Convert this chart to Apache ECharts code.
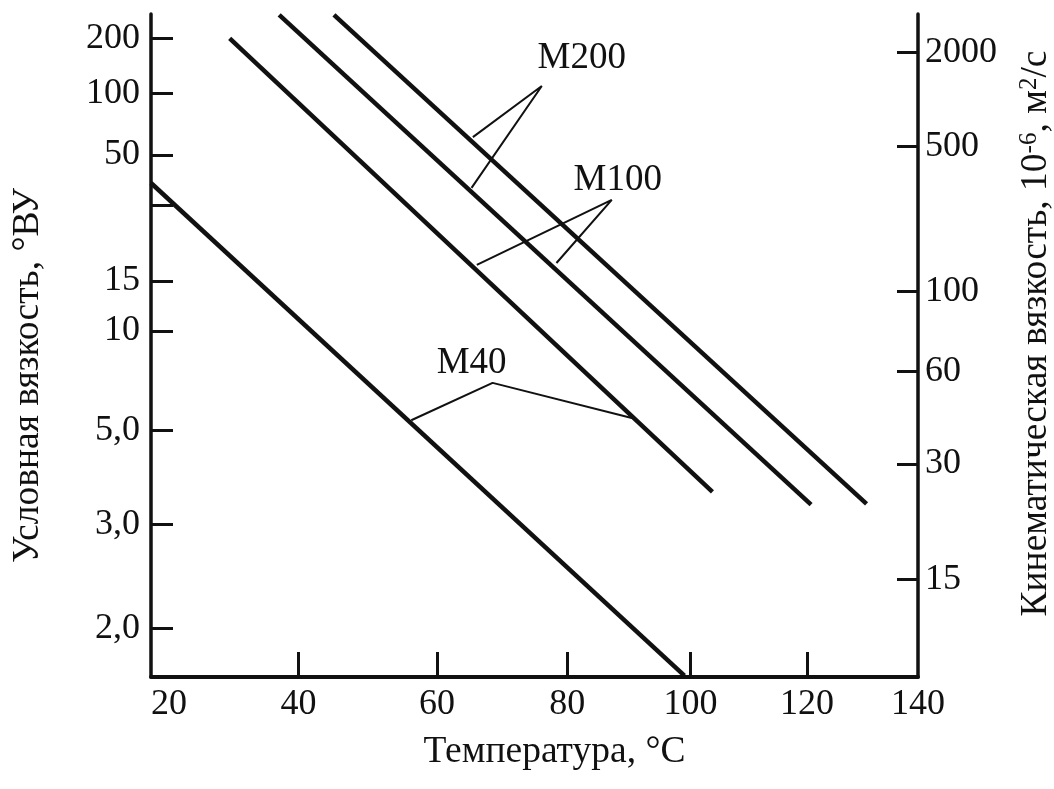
<!DOCTYPE html>
<html>
<head>
<meta charset="utf-8">
<script src="https://cdn.jsdelivr.net/npm/echarts@6/dist/echarts.min.js"></script>
<style>
  html, body { margin: 0; background: #fff; }
  #chart { width: 1054px; height: 789px; }
</style>
</head>
<body>
<div id="chart"></div>
<script>
// temperature ticks, °C
const tempTicks = [20, 40, 60, 80, 100, 120, 140];
const tempInnerTicks = [40, 60, 80, 100, 120];

// left scale, conventional viscosity °ВУ
const vuTicks = [200, 100, 50, 30, 15, 10, 5, 3, 2];
const vuLabels = ['200', '100', '50', '', '15', '10', '5,0', '3,0', '2,0'];
const vuRange = [1.744, 278];

// right scale, kinematic viscosity; where each tick sits against the °ВУ scale
const nuLabels = ['2000', '500', '100', '60', '30', '15'];
const nuTicksOnVU = [167, 55, 13.7, 7.4, 4.1, 2.37];

// oil lines: [temperature °C, viscosity °ВУ]
const lineA = [[20, 37.3], [99, 1.75]];
const lineB = [[30.5, 200], [103.7, 3.52]];
const lineC = [[37.3, 274.6], [120.7, 3.3]];
const lineD = [[45, 274.6], [130.6, 3.31]];

// grade callouts
const gradeNames = ['М40', 'М100', 'М200'];
const leaderM40 = [[56.2, 5.33], [68.4, 6.83], [90.5, 5.4]];
const leaderM100 = [[66, 17.2], [87.1, 31.5], [78.3, 17.5]];
const leaderM200 = [[65.4, 60.7], [76, 109.6], [65.2, 35.5]];

// chart scales: log of absolute temperature, log-log of kinematic viscosity
const tx = (t) => Math.log10(t + 273);
const ty = (vu) => {
  const nu = 7.31 * vu - 6.31 / vu;
  return Math.log10(Math.log10(nu + 0.8));
};
const toXY = (pts) => pts.map((p) => [tx(p[0]), ty(p[1])]);

const nearest = (arr, v) => {
  let best = 0;
  arr.forEach((a, i) => { if (Math.abs(a - v) < Math.abs(arr[best] - v)) best = i; });
  return best;
};

const font = '"Liberation Serif", "DejaVu Serif", serif';
const ink = '#111';

const vuTickU = vuTicks.map(ty);
const vuLabelU = vuTickU.filter((u, i) => vuLabels[i] !== '');
const nuTickU = nuTicksOnVU.map(ty);

const chart = echarts.init(document.getElementById('chart'));

const lineSeries = (pts, width) => ({
  type: 'line',
  data: toXY(pts),
  showSymbol: false,
  silent: true,
  lineStyle: { color: ink, width: width },
  animation: false,
});

const leaders = [leaderM40, leaderM100, leaderM200];
const labelOffsets = [[-21, 4], [6, 4], [40, -4]];

const option = {
  backgroundColor: '#fff',
  animation: false,
  grid: { left: 151, right: 136, top: 14, bottom: 112, outerBoundsMode: 'none' },
  xAxis: {
    type: 'value',
    min: tx(tempTicks[0]),
    max: tx(tempTicks[tempTicks.length - 1]),
    name: 'Температура, °C',
    nameLocation: 'middle',
    nameGap: 56,
    nameTextStyle: { fontFamily: font, fontSize: 37.5, color: ink, padding: [0, 0, 0, 40] },
    axisLine: { show: true, onZero: false, lineStyle: { color: ink, width: 4 } },
    axisTick: {
      show: true, inside: true, length: 25,
      customValues: tempInnerTicks.map(tx),
      lineStyle: { color: ink, width: 3 },
    },
    axisLabel: {
      customValues: tempTicks.map(tx),
      formatter: (v) => String(tempTicks[nearest(tempTicks.map(tx), v)]),
      fontFamily: font, fontSize: 36, color: ink, margin: 10,
      showMinLabel: true, showMaxLabel: true,
      alignMinLabel: 'left',
    },
    splitLine: { show: false },
  },
  yAxis: [
    {
      type: 'value',
      position: 'left',
      min: ty(vuRange[0]),
      max: ty(vuRange[1]),
      name: 'Условная вязкость, °ВУ',
      nameLocation: 'middle',
      nameGap: 104,
      nameRotate: 90,
      nameTextStyle: { fontFamily: font, fontSize: 37.5, color: ink, padding: [0, 60, 0, 0] },
      axisLine: { show: true, lineStyle: { color: ink, width: 3.5 } },
      axisTick: {
        show: true, inside: true, length: 22,
        customValues: vuTickU,
        lineStyle: { color: ink, width: 3 },
      },
      axisLabel: {
        customValues: vuLabelU,
        formatter: (v) => vuLabels[nearest(vuTickU, v)],
        fontFamily: font, fontSize: 36, color: ink, margin: 11,
        showMinLabel: true, showMaxLabel: true,
      },
      splitLine: { show: false },
    },
    {
      type: 'value',
      position: 'right',
      min: ty(vuRange[0]),
      max: ty(vuRange[1]),
      name: 'Кинематическая вязкость, 10{sup|-6}, м{sup|2}/с',
      nameLocation: 'middle',
      nameGap: 99,
      nameRotate: 90,
      nameTextStyle: {
        fontFamily: font, fontSize: 37.5, color: ink, padding: [0, 0, 0, 24],
        rich: { sup: { fontFamily: font, fontSize: 25, color: ink, verticalAlign: 'top', padding: [0, 0, 14, 0] } },
      },
      axisLine: { show: true, lineStyle: { color: ink, width: 3.5 } },
      axisTick: {
        show: true, inside: true, length: 21,
        customValues: nuTickU,
        lineStyle: { color: ink, width: 3 },
      },
      axisLabel: {
        customValues: nuTickU,
        formatter: (v) => nuLabels[nearest(nuTickU, v)],
        fontFamily: font, fontSize: 36, color: ink, margin: 7,
        showMinLabel: true, showMaxLabel: true,
      },
      splitLine: { show: false },
    },
  ],
  series: [
    lineSeries(lineA, 4.5),
    lineSeries(lineB, 4.5),
    lineSeries(lineC, 4.5),
    lineSeries(lineD, 4.5),
    ...leaders.map((l) => lineSeries(l, 2)),
    {
      type: 'scatter',
      symbolSize: 0,
      silent: true,
      itemStyle: { opacity: 1 },
      data: leaders.map((l, i) => ({
        name: gradeNames[i],
        value: [tx(l[1][0]), ty(l[1][1])],
        label: { offset: labelOffsets[i] },
      })),
      label: {
        show: true,
        position: 'top',
        formatter: '{b}',
        fontFamily: font,
        fontSize: 37,
        color: ink,
      },
    },
  ],
};

chart.setOption(option);
</script>
</body>
</html>
